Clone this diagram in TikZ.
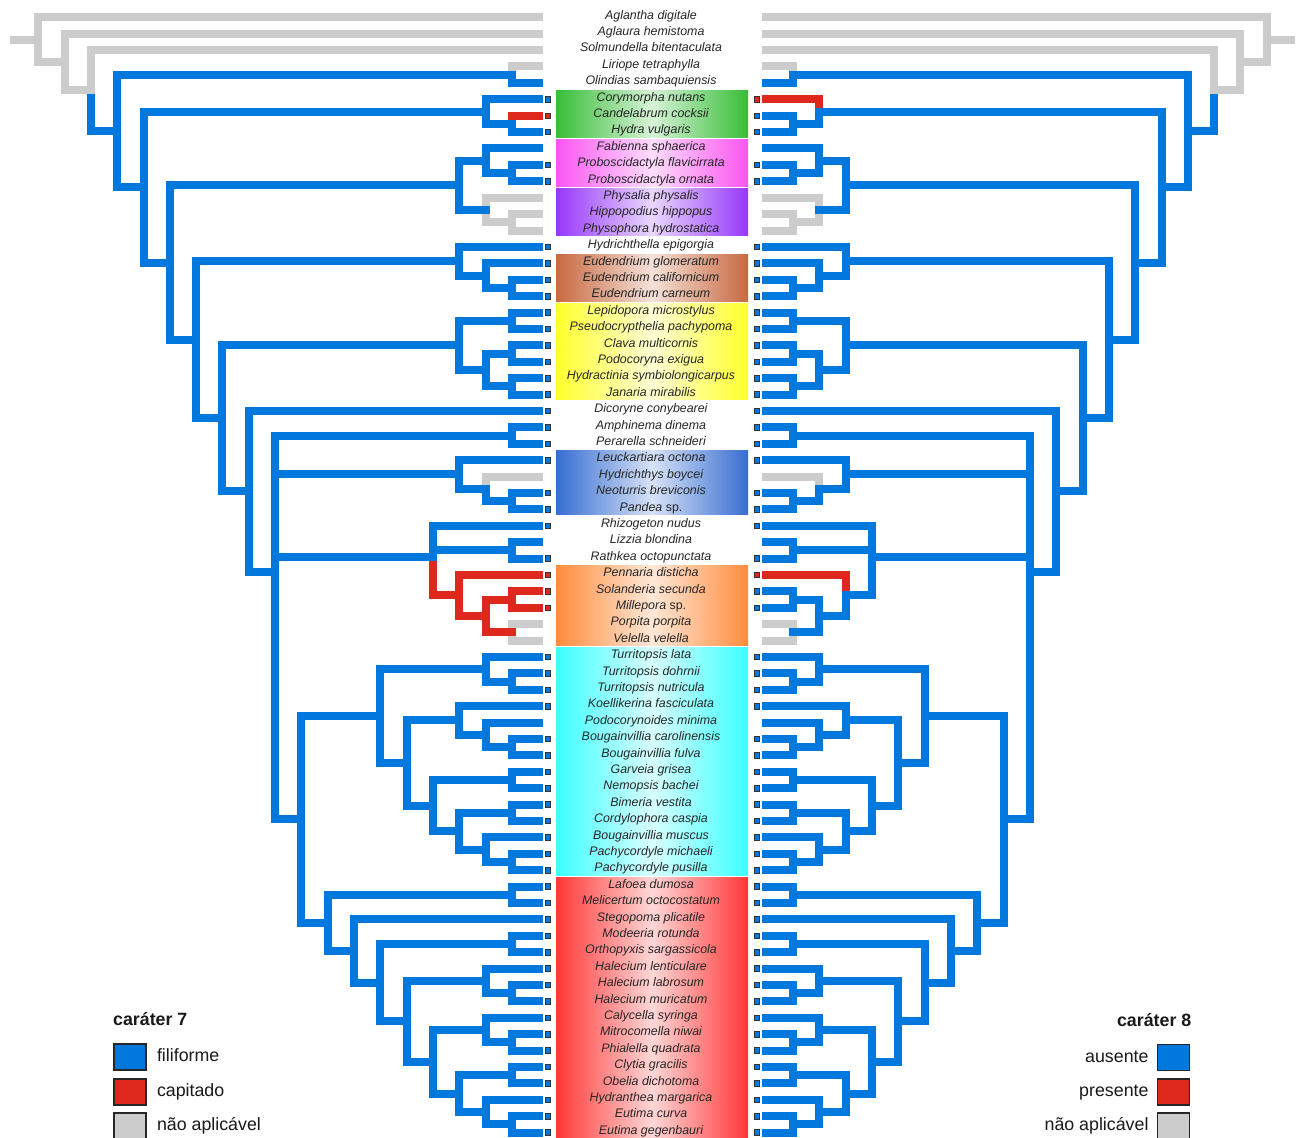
\documentclass[tikz,border=0pt]{standalone}
\usepackage{fontspec}
\setmainfont{Liberation Sans}
\usetikzlibrary{positioning}

\definecolor{stblue}{RGB}{0,120,222}
\definecolor{stred}{RGB}{222,40,30}
\definecolor{stgray}{RGB}{204,204,204}
\definecolor{bgreen}{RGB}{55,190,55}
\definecolor{bpink}{RGB}{250,85,240}
\definecolor{bpurple}{RGB}{150,55,250}
\definecolor{bbrown}{RGB}{200,105,65}
\definecolor{byellow}{RGB}{255,255,45}
\definecolor{bblue}{RGB}{55,110,210}
\definecolor{borange}{RGB}{255,140,60}
\definecolor{bcyan}{RGB}{60,255,255}
\definecolor{bred}{RGB}{255,55,55}

% tip: ends of both trees, name in the middle, state boxes
\newcommand{\taxon}[5]{%
  \coordinate (L-#1) at (539,#2);
  \coordinate (R-#1) at (766,#2);
  \node[taxon] (#1) at (651,#2) {#3};
  \node[#4] (#1-l) at (548,#2) {};
  \node[#5] (#1-r) at (757,#2) {};}
% inner node: level above the tips, row
\newcommand{\clade}[3]{%
  \coordinate (L-#1) at ({538.3-26.32*#2},#3);
  \coordinate (R-#1) at ({766.7+26.32*#2},#3);}
% parent -> child, style on the left, style on the right
\newcommand{\branchto}[4]{%
  \draw[#3] (L-#1) |- (L-#2);
  \draw[#4] (R-#1) |- (R-#2);}

\tikzset{
  brline/.style={line width=8pt, line cap=rect, line join=miter},
  st0/.style={brline, draw=stblue},
  st1/.style={brline, draw=stred},
  stna/.style={brline, draw=stgray},
  taxon/.style={anchor=base, yshift=-1.8pt, inner sep=0pt, text=black!85,
    font=\fontsize{12.4}{14}\selectfont\itshape},
  tipsq/.style={draw=black!80, line width=0.7pt, inner sep=0pt, minimum size=5.5pt},
  sqb/.style={tipsq, fill=stblue},
  sqr/.style={tipsq, fill=stred},
  nosq/.style={inner sep=0pt, minimum size=0pt},
  legbox/.style={draw=black!85, line width=1.6pt, minimum width=32pt,
    minimum height=26pt, inner sep=0pt},
  legtext/.style={inner sep=0pt, text height=12.7pt, text depth=3.6pt,
    text=black!90, font=\fontsize{17.8}{20}\selectfont},
  legtitle/.style={inner sep=0pt, text=black!90,
    font=\fontsize{17.8}{20}\selectfont\bfseries}
}

\begin{document}
\begin{tikzpicture}[x=1pt, y=-16.4pt]
  \useasboundingbox (0,-0.0549) rectangle (1303,69.335);
  \fill[white] (0,-0.0549) rectangle (1303,69.335);

  % coloured groups behind the names
  \foreach \a/\b/\q in {6/8/bgreen, 9/11/bpink, 12/14/bpurple, 16/18/bbrown,
      19/24/byellow, 28/31/bblue, 35/39/borange, 40/53/bcyan, 54/69.1/bred}
    \fill[left color=\q, right color=\q, middle color=\q!20]
      (556,\a-0.56) rectangle (748,\b+0.3);

  % taxa
  \taxon{Agl}{1}{Aglantha digitale}{nosq}{nosq}
  \taxon{Ahe}{2}{Aglaura hemistoma}{nosq}{nosq}
  \taxon{Sbi}{3}{Solmundella bitentaculata}{nosq}{nosq}
  \taxon{Lte}{4}{Liriope tetraphylla}{nosq}{nosq}
  \taxon{Osa}{5}{Olindias sambaquiensis}{nosq}{nosq}
  \taxon{Cnu}{6}{Corymorpha nutans}{sqb}{sqr}
  \taxon{Cco}{7}{Candelabrum cocksii}{sqr}{sqb}
  \taxon{Hvu}{8}{Hydra vulgaris}{sqb}{sqb}
  \taxon{Fsp}{9}{Fabienna sphaerica}{nosq}{nosq}
  \taxon{Pfl}{10}{Proboscidactyla flavicirrata}{sqb}{sqb}
  \taxon{Por}{11}{Proboscidactyla ornata}{sqb}{sqb}
  \taxon{Pph}{12}{Physalia physalis}{nosq}{nosq}
  \taxon{Hhi}{13}{Hippopodius hippopus}{nosq}{nosq}
  \taxon{Phy}{14}{Physophora hydrostatica}{nosq}{nosq}
  \taxon{Hep}{15}{Hydrichthella epigorgia}{sqb}{sqb}
  \taxon{Egl}{16}{Eudendrium glomeratum}{sqb}{sqb}
  \taxon{Eca}{17}{Eudendrium californicum}{sqb}{sqb}
  \taxon{Ecr}{18}{Eudendrium carneum}{sqb}{sqb}
  \taxon{Lmi}{19}{Lepidopora microstylus}{sqb}{sqb}
  \taxon{Ppa}{20}{Pseudocrypthelia pachypoma}{sqb}{sqb}
  \taxon{Cmu}{21}{Clava multicornis}{sqb}{sqb}
  \taxon{Pex}{22}{Podocoryna exigua}{sqb}{sqb}
  \taxon{Hsy}{23}{Hydractinia symbiolongicarpus}{sqb}{sqb}
  \taxon{Jmi}{24}{Janaria mirabilis}{sqb}{sqb}
  \taxon{Dco}{25}{Dicoryne conybearei}{sqb}{sqb}
  \taxon{Adi}{26}{Amphinema dinema}{sqb}{sqb}
  \taxon{Psc}{27}{Perarella schneideri}{sqb}{sqb}
  \taxon{Loc}{28}{Leuckartiara octona}{sqb}{sqb}
  \taxon{Hbo}{29}{Hydrichthys boycei}{nosq}{nosq}
  \taxon{Nbr}{30}{Neoturris breviconis}{sqb}{sqb}
  \taxon{Pan}{31}{Pandea {\upshape sp.}}{sqb}{sqb}
  \taxon{Rnu}{32}{Rhizogeton nudus}{sqb}{sqb}
  \taxon{Lbl}{33}{Lizzia blondina}{nosq}{nosq}
  \taxon{Roc}{34}{Rathkea octopunctata}{sqb}{sqb}
  \taxon{Pdi}{35}{Pennaria disticha}{sqr}{sqr}
  \taxon{Sse}{36}{Solanderia secunda}{sqr}{sqb}
  \taxon{Msp}{37}{Millepora {\upshape sp.}}{sqr}{sqb}
  \taxon{Ppo}{38}{Porpita porpita}{nosq}{nosq}
  \taxon{Vve}{39}{Velella velella}{nosq}{nosq}
  \taxon{Tla}{40}{Turritopsis lata}{sqb}{sqb}
  \taxon{Tdo}{41}{Turritopsis dohrnii}{sqb}{sqb}
  \taxon{Tnu}{42}{Turritopsis nutricula}{sqb}{sqb}
  \taxon{Kfa}{43}{Koellikerina fasciculata}{sqb}{sqb}
  \taxon{Pmi}{44}{Podocorynoides minima}{nosq}{nosq}
  \taxon{Bca}{45}{Bougainvillia carolinensis}{sqb}{sqb}
  \taxon{Bfu}{46}{Bougainvillia fulva}{sqb}{sqb}
  \taxon{Ggr}{47}{Garveia grisea}{sqb}{sqb}
  \taxon{Nba}{48}{Nemopsis bachei}{sqb}{sqb}
  \taxon{Bve}{49}{Bimeria vestita}{sqb}{sqb}
  \taxon{Ccs}{50}{Cordylophora caspia}{sqb}{sqb}
  \taxon{Bmu}{51}{Bougainvillia muscus}{sqb}{sqb}
  \taxon{Pmc}{52}{Pachycordyle michaeli}{sqb}{sqb}
  \taxon{Ppu}{53}{Pachycordyle pusilla}{sqb}{sqb}
  \taxon{Ldu}{54}{Lafoea dumosa}{sqb}{sqb}
  \taxon{Moc}{55}{Melicertum octocostatum}{sqb}{sqb}
  \taxon{Spl}{56}{Stegopoma plicatile}{sqb}{sqb}
  \taxon{Mro}{57}{Modeeria rotunda}{sqb}{sqb}
  \taxon{Osg}{58}{Orthopyxis sargassicola}{sqb}{sqb}
  \taxon{Hle}{59}{Halecium lenticulare}{sqb}{sqb}
  \taxon{Hla}{60}{Halecium labrosum}{sqb}{sqb}
  \taxon{Hmu}{61}{Halecium muricatum}{sqb}{sqb}
  \taxon{Csy}{62}{Calycella syringa}{sqb}{sqb}
  \taxon{Mni}{63}{Mitrocomella niwai}{sqb}{sqb}
  \taxon{Pqu}{64}{Phialella quadrata}{sqb}{sqb}
  \taxon{Cgr}{65}{Clytia gracilis}{sqb}{sqb}
  \taxon{Odi}{66}{Obelia dichotoma}{sqb}{sqb}
  \taxon{Hma}{67}{Hydranthea margarica}{sqb}{sqb}
  \taxon{Ecu}{68}{Eutima curva}{sqb}{sqb}
  \taxon{Ege}{69}{Eutima gegenbauri}{sqb}{sqb}

  % inner nodes: row = mean of the children's rows
  \clade{LO}{1}{4.5}      \clade{CH}{1}{7.5}      \clade{CCH}{2}{6.75}
  \clade{PP}{1}{10.5}     \clade{FP}{2}{9.75}     \clade{HP}{1}{13.5}
  \clade{Ph}{2}{12.75}    \clade{FPPh}{3}{11.25}  \clade{E2}{1}{17.5}
  \clade{E1}{2}{16.75}    \clade{HE}{3}{15.875}   \clade{LP}{1}{19.5}
  \clade{CP}{1}{21.5}     \clade{HJ}{1}{23.5}     \clade{CPHJ}{2}{22.5}
  \clade{Yel}{3}{21}      \clade{AP}{1}{26.5}     \clade{NP}{1}{30.5}
  \clade{HNP}{2}{29.75}   \clade{LHNP}{3}{28.875} \clade{LR}{1}{33.5}
  \clade{SM}{1}{36.5}     \clade{PV}{1}{38.5}     \clade{SMPV}{2}{37.5}
  \clade{PSMPV}{3}{36.25} \clade{RP}{4}{33.917}
  \clade{Tdn}{1}{41.5}    \clade{T}{2}{40.75}     \clade{BB}{1}{45.5}
  \clade{PB}{2}{44.75}    \clade{K}{3}{43.875}    \clade{GN}{1}{47.5}
  \clade{BCc}{1}{49.5}    \clade{PPc}{1}{52.5}    \clade{BPP}{2}{51.75}
  \clade{BC}{3}{50.625}   \clade{G}{4}{49.0625}   \clade{B}{5}{46.47}
  \clade{A}{6}{43.61}
  \clade{LM}{1}{54.5}     \clade{MO}{1}{57.5}     \clade{HH}{1}{60.5}
  \clade{Hal}{2}{59.75}   \clade{MP}{1}{63.5}     \clade{CMP}{2}{62.75}
  \clade{CO}{1}{65.5}     \clade{EE}{1}{68.5}     \clade{HE2}{2}{67.75}
  \clade{M}{3}{66.625}    \clade{L}{4}{64.6875}   \clade{K2}{5}{62.22}
  \clade{J}{6}{59.86}     \clade{I}{7}{57.93}     \clade{H}{8}{56.21}
  \clade{N10}{9}{49.91}   \clade{N9}{10}{34.80}   \clade{N8}{11}{29.90}
  \clade{N7}{12}{25.45}   \clade{N6}{13}{20.66}   \clade{N5}{14}{15.96}
  \clade{N4}{15}{11.35}   \clade{N3}{16}{7.93}    \clade{N2}{17}{5.46}
  \clade{N1}{18}{3.73}    \clade{R0}{19}{2.37}

  % branches, level by level so each joint is covered by the branch below it
  \foreach \p/\q in {LO/Osa, CH/Hvu, PP/Pfl, PP/Por, E2/Eca, E2/Ecr, LP/Lmi,
      LP/Ppa, CP/Cmu, CP/Pex, HJ/Hsy, HJ/Jmi, AP/Adi, AP/Psc, NP/Nbr, NP/Pan,
      LR/Lbl, LR/Roc, Tdn/Tdo, Tdn/Tnu, BB/Bca, BB/Bfu, GN/Ggr, GN/Nba,
      BCc/Bve, BCc/Ccs, PPc/Pmc, PPc/Ppu, LM/Ldu, LM/Moc, MO/Mro, MO/Osg,
      HH/Hla, HH/Hmu, MP/Mni, MP/Pqu, CO/Cgr, CO/Odi, EE/Ecu, EE/Ege}
    {\branchto{\p}{\q}{st0}{st0}}
  \branchto{LO}{Lte}{stna}{stna}
  \branchto{CH}{Cco}{st1}{st0}
  \branchto{HP}{Hhi}{stna}{stna}
  \branchto{HP}{Phy}{stna}{stna}
  \branchto{SM}{Sse}{st1}{st0}
  \branchto{SM}{Msp}{st1}{st0}
  \branchto{PV}{Ppo}{stna}{stna}
  \branchto{PV}{Vve}{stna}{stna}

  \foreach \p/\q in {CCH/CH, FP/Fsp, FP/PP, E1/Egl, E1/E2, CPHJ/CP, CPHJ/HJ,
      HNP/NP, T/Tla, T/Tdn, PB/Pmi, PB/BB, BPP/Bmu, BPP/PPc, Hal/Hle,
      Hal/HH, CMP/Csy, CMP/MP, HE2/Hma, HE2/EE}
    {\branchto{\p}{\q}{st0}{st0}}
  \branchto{CCH}{Cnu}{st0}{st1}
  \branchto{Ph}{Pph}{stna}{stna}
  \branchto{Ph}{HP}{stna}{stna}
  \branchto{HNP}{Hbo}{stna}{stna}
  \branchto{SMPV}{SM}{st1}{st0}
  \branchto{SMPV}{PV}{st1}{st0}

  \foreach \p/\q in {FPPh/FP, FPPh/Ph, HE/Hep, HE/E1, Yel/LP, Yel/CPHJ,
      LHNP/Loc, LHNP/HNP, K/Kfa, K/PB, BC/BCc, BC/BPP, M/CO, M/HE2}
    {\branchto{\p}{\q}{st0}{st0}}
  \branchto{PSMPV}{Pdi}{st1}{st1}
  \branchto{PSMPV}{SMPV}{st1}{st0}

  \foreach \p/\q in {RP/Rnu, RP/LR, G/GN, G/BC, L/CMP, L/M,
      B/K, B/G, K2/Hal, K2/L, A/T, A/B, J/MO, J/K2, I/Spl, I/J,
      H/LM, H/I, N10/A, N10/H}
    {\branchto{\p}{\q}{st0}{st0}}
  \branchto{RP}{PSMPV}{st1}{st0}

  \foreach \p/\q in {N9/AP, N9/LHNP, N9/RP, N9/N10, N8/Dco, N8/N9,
      N7/Yel, N7/N8, N6/HE, N6/N7, N5/FPPh, N5/N6, N4/CCH, N4/N5,
      N3/LO, N3/N4, N2/N3}
    {\branchto{\p}{\q}{st0}{st0}}
  \branchto{N2}{Sbi}{stna}{stna}
  \branchto{N1}{Ahe}{stna}{stna}
  \branchto{N1}{N2}{stna}{stna}
  \branchto{R0}{Agl}{stna}{stna}
  \branchto{R0}{N1}{stna}{stna}

  % root
  \coordinate (L-root) at (13.6,2.37);
  \coordinate (R-root) at (1291.4,2.37);
  \draw[stna] (L-root) -- (L-R0);
  \draw[stna] (R-root) -- (R-R0);

  % legend, character 7
  \node[legtitle, anchor=base west] (c7) at (113,62.45) {caráter 7};
  \node[legbox, fill=stblue] (c7a) at (130,64.4) {};
  \node[legbox, fill=stred] (c7b) at (130,66.52) {};
  \node[legbox, fill=stgray] (c7c) at (130,68.6) {};
  \node[legtext, right=10pt of c7a] (c7at) {filiforme};
  \node[legtext, right=10pt of c7b] (c7bt) {capitado};
  \node[legtext, right=10pt of c7c] (c7ct) {não aplicável};

  % legend, character 8
  \node[legtitle, anchor=base east] (c8) at (1191.5,62.54) {caráter 8};
  \node[legbox, fill=stblue] (c8a) at (1173.5,64.43) {};
  \node[legbox, fill=stred] (c8b) at (1173.5,66.53) {};
  \node[legbox, fill=stgray] (c8c) at (1173.5,68.6) {};
  \node[legtext, left=8pt of c8a] (c8at) {ausente};
  \node[legtext, left=8pt of c8b] (c8bt) {presente};
  \node[legtext, left=8pt of c8c] (c8ct) {não aplicável};
\end{tikzpicture}
\end{document}
